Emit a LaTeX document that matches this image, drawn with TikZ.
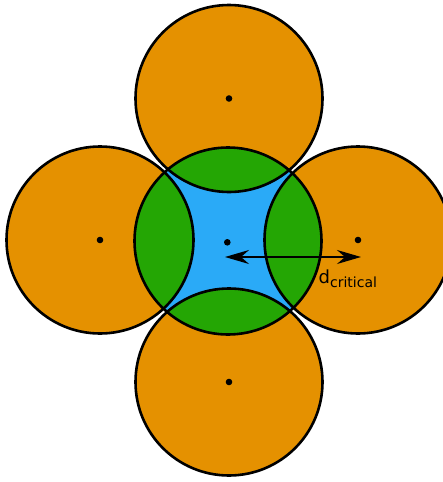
\documentclass[tikz,border=0pt]{standalone}
\usepackage{fontspec}
\setmainfont{DejaVu Sans}
\usetikzlibrary{arrows.meta}
\definecolor{corange}{RGB}{229,145,0}
\definecolor{cgreen}{RGB}{36,166,4}
\definecolor{cblue}{RGB}{42,170,247}
\tikzset{
  ring/.style={draw=black, line width=2.6pt},
  centerdot/.style={fill=black},
}
\begin{document}
\begin{tikzpicture}[x=1pt,y=-1pt]
\useasboundingbox (0,0) rectangle (442,482);
\coordinate (C) at (228,241);
\coordinate (T) at (229,98.5);
\coordinate (L) at (100,240);
\coordinate (R) at (358,240);
\coordinate (B) at (229,382);
\def\rr{93.5pt}
% outer orange discs
\foreach \p in {T,L,R,B} \fill[corange] (\p) circle[radius=\rr];
% central disc: blue, with green lenses
\fill[cblue] (C) circle[radius=\rr];
\begin{scope}
  \clip (C) circle[radius=\rr];
  \foreach \p in {T,L,R,B} \fill[cgreen] (\p) circle[radius=\rr];
\end{scope}
% outlines
\foreach \p in {T,L,R,B,C} \draw[ring] (\p) circle[radius=\rr];
% centre dots
\foreach \p in {T,L,R,B} \fill[centerdot] (\p) circle[radius=3.3pt];
\fill[centerdot] (227.3,242.3) circle[radius=3.3pt];
% arrow
\coordinate (a1) at (225,257);
\coordinate (a2) at (361,257);
\draw[line width=1.5pt, {Stealth[length=24pt,width=14pt,inset=8pt]}-{Stealth[length=24pt,width=14pt,inset=8pt]}] (a1) -- (a2);
\node[anchor=base west, inner sep=0pt] (lbl) at (318.5,283) {\fontsize{18}{18}\selectfont d\raisebox{-4.5pt}{\fontsize{14}{14}\selectfont critical}};
\end{tikzpicture}
\end{document}
